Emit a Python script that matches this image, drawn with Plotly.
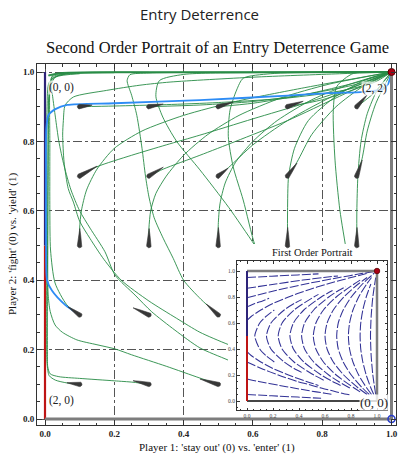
import math
import plotly.graph_objects as go

# ---------------- data ----------------
tick_vals = [0.0, 0.2, 0.4, 0.6, 0.8, 1.0]
tick_text = ["0.0", "0.2", "0.4", "0.6", "0.8", "1.0"]

# second-order trajectories (green), (x, y) pairs
traj_top = [(0.01, 0.99), (0.05, 0.997), (0.3, 0.999), (0.7, 0.999), (1.0, 1.0)]
traj_r1c1 = [(0.1, 0.1), (0.063, 0.104), (0.03, 0.112), (0.012, 0.125), (0.006, 0.16), (0.005, 0.3),
             (0.005, 0.5), (0.005, 0.7), (0.006, 0.9), (0.012, 0.97), (0.04, 0.99), (0.2, 0.998)]
traj_r1c2 = [(0.3, 0.1), (0.254, 0.106), (0.2, 0.11), (0.1, 0.117), (0.04, 0.122), (0.015, 0.13),
             (0.008, 0.15), (0.007, 0.2), (0.007, 0.4), (0.008, 0.6), (0.009, 0.8), (0.011, 0.93),
             (0.02, 0.98), (0.06, 0.995), (0.3, 0.999)]
traj_r1c3 = [(0.5, 0.1), (0.447, 0.118), (0.35, 0.152), (0.25, 0.185), (0.202, 0.202), (0.15, 0.214),
             (0.092, 0.228), (0.05, 0.25), (0.029, 0.271), (0.015, 0.31), (0.009, 0.36), (0.008, 0.5),
             (0.009, 0.7), (0.011, 0.9), (0.016, 0.96), (0.03, 0.985), (0.1, 0.995)]
traj_r1c4 = [(0.62, 0.13), (0.528, 0.17), (0.447, 0.205), (0.375, 0.256), (0.308, 0.309), (0.26, 0.357),
             (0.202, 0.415), (0.173, 0.482), (0.13, 0.55), (0.1, 0.6), (0.075, 0.66), (0.055, 0.73),
             (0.04, 0.8), (0.03, 0.87), (0.022, 0.93), (0.017, 0.97), (0.022, 0.99), (0.06, 0.997),
             (0.3, 0.999), (1.0, 1.0)]
traj_r1c5 = [(0.6, 0.19), (0.528, 0.215), (0.447, 0.25), (0.38, 0.29), (0.3, 0.34), (0.22, 0.4),
             (0.17, 0.46), (0.13, 0.52), (0.1, 0.57), (0.082, 0.625), (0.067, 0.664), (0.055, 0.741),
             (0.051, 0.818), (0.053, 0.86), (0.058, 0.904), (0.082, 0.928), (0.178, 0.947),
             (0.274, 0.962), (0.361, 0.971), (0.6, 0.985), (0.85, 0.995), (1.0, 1.0)]
traj_r2c1g = [(0.1, 0.3), (0.063, 0.329), (0.029, 0.392), (0.016, 0.487), (0.014, 0.6), (0.014, 0.8),
              (0.014, 0.95), (0.02, 0.985), (0.06, 0.995)]
traj_r2c3 = [(0.5, 0.3), (0.45, 0.345), (0.4, 0.4), (0.37, 0.463), (0.341, 0.521), (0.315, 0.58),
             (0.3, 0.64), (0.29, 0.7), (0.28, 0.78), (0.265, 0.875), (0.25, 0.933), (0.237, 0.975),
             (0.245, 0.992), (0.3, 0.997), (0.6, 0.999), (1.0, 1.0)]
traj_r2c4 = [(0.68, 0.33), (0.64, 0.42), (0.606, 0.5), (0.572, 0.631), (0.543, 0.727), (0.529, 0.814),
             (0.534, 0.89), (0.553, 0.948), (0.572, 0.982), (0.65, 0.995), (0.8, 0.999), (1.0, 1.0)]
traj_r2c5 = [(0.89, 0.35), (0.871, 0.477), (0.851, 0.602), (0.837, 0.746), (0.832, 0.89),
             (0.842, 0.958), (0.89, 0.996), (1.0, 1.0)]
traj_extra = [(0.8, 0.2), (0.7, 0.36), (0.606, 0.5), (0.53, 0.61), (0.447, 0.718), (0.38, 0.8),
              (0.34, 0.87), (0.32, 0.93), (0.33, 0.975), (0.4, 0.993), (0.6, 0.998), (1.0, 1.0)]
traj_r3c1 = [(0.1, 0.5), (0.1, 0.55), (0.105, 0.6), (0.12, 0.66), (0.15, 0.72), (0.2, 0.78),
             (0.28, 0.83), (0.4, 0.875), (0.55, 0.915), (0.75, 0.955), (1.0, 1.0)]
traj_r3c2 = [(0.3, 0.5), (0.3, 0.55), (0.305, 0.6), (0.32, 0.65), (0.35, 0.7), (0.4, 0.76),
             (0.47, 0.82), (0.56, 0.875), (0.68, 0.925), (0.82, 0.965), (1.0, 1.0)]
traj_r3c3 = [(0.5, 0.5), (0.5, 0.56), (0.505, 0.62), (0.52, 0.68), (0.55, 0.74), (0.6, 0.8),
             (0.67, 0.86), (0.77, 0.92), (0.88, 0.965), (1.0, 1.0)]
traj_r3c4 = [(0.7, 0.5), (0.7, 0.6), (0.703, 0.7), (0.72, 0.78), (0.76, 0.86), (0.84, 0.93),
             (0.93, 0.98), (1.0, 1.0)]
traj_r3c5 = [(0.9, 0.5), (0.9, 0.6), (0.903, 0.7), (0.912, 0.8), (0.93, 0.88), (0.96, 0.95), (1.0, 1.0)]
traj_r4c1 = [(0.1, 0.7), (0.15, 0.727), (0.25, 0.76), (0.35, 0.79), (0.447, 0.818), (0.6, 0.865),
             (0.75, 0.91), (0.9, 0.96), (1.0, 1.0)]
traj_r4c2 = [(0.3, 0.7), (0.341, 0.72), (0.447, 0.76), (0.55, 0.8), (0.7, 0.86), (0.85, 0.93), (1.0, 1.0)]
traj_r4c3 = [(0.5, 0.7), (0.53, 0.725), (0.6, 0.79), (0.7, 0.86), (0.85, 0.94), (1.0, 1.0)]
traj_r4c4 = [(0.7, 0.7), (0.727, 0.74), (0.77, 0.82), (0.84, 0.9), (0.92, 0.96), (1.0, 1.0)]
traj_r4c5 = [(0.9, 0.7), (0.915, 0.75), (0.93, 0.83), (0.955, 0.91), (1.0, 1.0)]
traj_r5c1 = [(0.1, 0.9), (0.2, 0.902), (0.35, 0.906), (0.5, 0.912), (0.7, 0.925), (0.85, 0.945),
             (0.95, 0.97), (1.0, 1.0)]
traj_r5c2 = [(0.3, 0.9), (0.45, 0.905), (0.6, 0.915), (0.75, 0.935), (0.9, 0.965), (1.0, 1.0)]
traj_r5c3 = [(0.5, 0.9), (0.6, 0.91), (0.75, 0.935), (0.9, 0.97), (1.0, 1.0)]
traj_r5c4 = [(0.7, 0.9), (0.8, 0.92), (0.92, 0.96), (1.0, 1.0)]
traj_r5c5 = [(0.9, 0.9), (0.95, 0.94), (1.0, 1.0)]

# highlighted trajectory (light blue)
traj_blue = [(0.1, 0.3), (0.058, 0.329), (0.02, 0.37), (0.006, 0.4), (0.003, 0.5), (0.003, 0.7),
             (0.004, 0.84), (0.01, 0.876), (0.03, 0.893), (0.064, 0.905), (0.2, 0.91), (0.447, 0.919),
             (0.7, 0.932), (0.82, 0.939), (0.92, 0.943), (0.975, 0.95), (0.99, 0.965),
             (0.995, 0.98), (1.0, 1.0)]

# comets: head (grid point) and tail (initial velocity direction)
comet_heads = [(0.1, 0.9), (0.3, 0.9), (0.5, 0.9), (0.7, 0.9), (0.9, 0.9),
               (0.1, 0.7), (0.3, 0.7), (0.5, 0.7), (0.7, 0.7), (0.9, 0.7),
               (0.1, 0.5), (0.3, 0.5), (0.5, 0.5), (0.7, 0.5), (0.9, 0.5),
               (0.1, 0.3), (0.3, 0.3), (0.5, 0.3),
               (0.1, 0.1), (0.3, 0.1), (0.5, 0.1)]
comet_tails = [(0.136, 0.905), (0.341, 0.908), (0.543, 0.914), (0.745, 0.916), (0.929, 0.934),
               (0.150, 0.729), (0.341, 0.726), (0.528, 0.723), (0.727, 0.738), (0.915, 0.746),
               (0.1, 0.549), (0.3, 0.549), (0.5, 0.552), (0.7, 0.552), (0.9, 0.552),
               (0.066, 0.323), (0.254, 0.32), (0.465, 0.331),
               (0.063, 0.104), (0.254, 0.11), (0.447, 0.115)]

# inset: first-order stream lines
inset_up1 = [(0.0, 0.95), (0.19, 0.96), (0.39, 0.97), (0.55, 0.978)]
inset_up2 = [(0.0, 0.867), (0.22, 0.9), (0.43, 0.93), (0.59, 0.95), (0.7, 0.962)]
inset_up3 = [(0.0, 0.795), (0.22, 0.85), (0.45, 0.9), (0.71, 0.95), (0.88, 0.98), (0.97, 0.995)]
inset_up4 = [(0.0, 0.724), (0.06, 0.75), (0.12, 0.77), (0.17, 0.79)]
inset_up5 = [(0.0, 0.62), (0.032, 0.65), (0.106, 0.7), (0.2, 0.75), (0.319, 0.8), (0.457, 0.85),
             (0.617, 0.9), (0.8, 0.95), (0.92, 0.98)]
inset_dn1 = [(0.0, 0.05), (0.19, 0.04), (0.39, 0.03), (0.57, 0.021)]
inset_dn2 = [(0.0, 0.17), (0.09, 0.15), (0.25, 0.12), (0.36, 0.1), (0.47, 0.08), (0.6, 0.06), (0.66, 0.05)]
inset_dn3 = [(0.0, 0.3), (0.11, 0.25), (0.24, 0.2), (0.39, 0.15), (0.5, 0.12), (0.57, 0.1),
             (0.65, 0.08), (0.73, 0.06), (0.8, 0.045)]
inset_dn4 = [(0.0, 0.38), (0.032, 0.35), (0.106, 0.3), (0.2, 0.25), (0.319, 0.2), (0.457, 0.15), (0.55, 0.12)]
inset_arc1 = [(0.21, 0.3), (0.145, 0.35), (0.098, 0.4), (0.06, 0.5), (0.098, 0.6), (0.145, 0.65), (0.21, 0.7)]
inset_arc2 = [(0.42, 0.22), (0.3625, 0.25), (0.286, 0.3), (0.184, 0.4), (0.15, 0.5), (0.184, 0.6),
              (0.286, 0.7), (0.3625, 0.75), (0.42, 0.78)]
inset_arc3 = [(0.59, 0.16), (0.514, 0.2), (0.362, 0.3), (0.27, 0.4), (0.24, 0.5), (0.27, 0.6),
              (0.362, 0.7), (0.514, 0.8), (0.55, 0.82)]
inset_arc4 = [(0.72, 0.12), (0.658, 0.15), (0.571, 0.2), (0.437, 0.3), (0.357, 0.4), (0.33, 0.5),
              (0.357, 0.6), (0.437, 0.7), (0.571, 0.8), (0.658, 0.85)]
inset_arc5 = [(0.791, 0.1), (0.704, 0.15), (0.629, 0.2), (0.513, 0.3), (0.443, 0.4), (0.42, 0.5),
              (0.443, 0.6), (0.513, 0.7), (0.629, 0.8), (0.704, 0.85), (0.76, 0.88)]
inset_arc6 = [(0.87, 0.07), (0.824, 0.1), (0.686, 0.2), (0.588, 0.3), (0.53, 0.4), (0.51, 0.5),
              (0.53, 0.6), (0.588, 0.7), (0.686, 0.8), (0.824, 0.9), (0.87, 0.93)]
inset_arc7 = [(0.924, 0.05), (0.856, 0.1), (0.744, 0.2), (0.664, 0.3), (0.616, 0.4), (0.6, 0.5),
              (0.616, 0.6), (0.664, 0.7), (0.744, 0.8), (0.856, 0.9), (0.924, 0.95)]
inset_arc8 = [(0.941, 0.05), (0.888, 0.1), (0.802, 0.2), (0.74, 0.3), (0.702, 0.4), (0.69, 0.5),
              (0.702, 0.6), (0.74, 0.7), (0.802, 0.8), (0.888, 0.9), (0.941, 0.95), (0.98, 0.985)]
inset_arc9 = [(0.958, 0.05), (0.921, 0.1), (0.859, 0.2), (0.815, 0.3), (0.789, 0.4), (0.78, 0.5),
              (0.789, 0.6), (0.815, 0.7), (0.859, 0.8), (0.921, 0.9), (0.958, 0.95)]
inset_arc10 = [(0.975, 0.05), (0.953, 0.1), (0.917, 0.2), (0.891, 0.3), (0.875, 0.4), (0.87, 0.5),
               (0.875, 0.6), (0.891, 0.7), (0.917, 0.8), (0.953, 0.9)]
inset_arc11 = [(0.99, 0.05), (0.968, 0.2), (0.955, 0.35), (0.95, 0.5), (0.955, 0.65), (0.968, 0.8), (0.99, 0.95)]

corner_labels = ["(0, 0)", "(2, 2)", "(2, 0)"]
corner_pos = [(0.049, 0.954), (0.951, 0.952), (0.049, 0.052)]

# ---------------- styling / geometry ----------------
W, H = 399, 455
ML, MT = 37, 64
PW, PH = 359, 361
MR, MB = W - ML - PW, H - MT - PH
PX0, SX = 45.0, 346.5   # x=0 pixel, px per unit
PY0, SY = 419.0, 347.0  # y=0 pixel, px per unit
XR = [(ML - PX0) / SX, (ML + PW - PX0) / SX]
YR = [(PY0 - (MT + PH)) / SY, (PY0 - MT) / SY]

GREEN = "rgba(40,140,70,0.9)"
BLUE = "rgb(45,140,245)"
NAVY = "rgb(45,35,120)"
RED = "rgb(190,20,20)"
GRAY = "rgb(125,125,125)"
STREAM = "rgb(50,50,150)"
SERIF = "Liberation Serif"


def r2p(px, py):
    """pixel -> paper coordinates"""
    return (px - ML) / PW, ((MT + PH) - py) / PH


fig = go.Figure()


def line(pts, color, width, xa="x", ya="y", dash=None, spline=True):
    fig.add_trace(go.Scatter(
        x=[p[0] for p in pts], y=[p[1] for p in pts], mode="lines",
        line=dict(color=color, width=width, dash=dash,
                  shape="spline" if spline else "linear", smoothing=0.7),
        xaxis=xa, yaxis=ya, hoverinfo="skip", showlegend=False))


# boundary of main portrait (left edge)
line([(0, 0), (0, 0.5)], RED, 2.2, spline=False)
line([(0, 0.5), (0, 1)], NAVY, 2.2, spline=False)

green_trajs = [traj_top, traj_r1c1, traj_r1c2, traj_r1c3, traj_r1c4, traj_r1c5, traj_r2c1g,
               traj_r2c3, traj_r2c4, traj_r2c5, traj_extra, traj_r3c1, traj_r3c2, traj_r3c3,
               traj_r3c4, traj_r3c5, traj_r4c1, traj_r4c2, traj_r4c3, traj_r4c4, traj_r4c5,
               traj_r5c1, traj_r5c2, traj_r5c3, traj_r5c4, traj_r5c5]
for t in green_trajs:
    line(t, GREEN, 1.0)
line(traj_top, GREEN, 2.0)
line(traj_blue, BLUE, 1.8)

# white backing for the inset
bx0, bx1 = (228 - PX0) / SX, (390 - PX0) / SX
by0, by1 = (PY0 - 417) / SY, (PY0 - 244) / SY
fig.add_trace(go.Scatter(x=[bx0, bx1, bx1, bx0, bx0], y=[by0, by0, by1, by1, by0], mode="lines",
                         fill="toself", fillcolor="white", line=dict(width=0),
                         hoverinfo="skip", showlegend=False))

# comets
for (hx, hy), (tx, ty) in zip(comet_heads, comet_tails):
    dx, dy = (tx - hx) * SX, (ty - hy) * SY
    L = math.hypot(dx, dy)
    ux, uy = dx / L, dy / L
    nx, ny = -uy, ux
    r = 2.3
    xs, ys = [], []
    for f, w in [(0.0, r), (0.3, 0.75 * r), (0.6, 0.45 * r), (1.0, 0.15)]:
        xs.append(hx + (f * dx + w * nx) / SX)
        ys.append(hy + (f * dy + w * ny) / SY)
    for f, w in [(1.0, 0.15), (0.6, 0.45 * r), (0.3, 0.75 * r), (0.0, r)]:
        xs.append(hx + (f * dx - w * nx) / SX)
        ys.append(hy + (f * dy - w * ny) / SY)
    a0 = math.atan2(-ny, -nx)
    for k in range(1, 9):
        a = a0 - math.pi * k / 8
        xs.append(hx + r * math.cos(a) / SX)
        ys.append(hy + r * math.sin(a) / SY)
    fig.add_trace(go.Scatter(x=xs, y=ys, mode="lines", fill="toself", fillcolor="rgb(55,55,55)",
                             line=dict(width=0.6, color="rgb(55,55,55)"), hoverinfo="skip",
                             showlegend=False))

# gray boundaries, markers
line([(0, 0), (1, 0)], GRAY, 3, spline=False)
line([(1, 0), (1, 1)], GRAY, 3, spline=False)
fig.add_trace(go.Scatter(x=[1], y=[1], mode="markers",
                         marker=dict(size=7, color="rgb(170,0,20)", line=dict(color="rgb(90,0,0)", width=1)),
                         hoverinfo="skip", showlegend=False, cliponaxis=False))
fig.add_trace(go.Scatter(x=[1], y=[0], mode="markers",
                         marker=dict(size=7, symbol="circle-open", color="rgb(40,60,200)", line=dict(width=1.6)),
                         hoverinfo="skip", showlegend=False, cliponaxis=False))

# ---------------- inset ----------------
for s in [inset_up1, inset_up2, inset_up3, inset_up4, inset_up5, inset_dn1, inset_dn2, inset_dn3,
          inset_dn4, inset_arc1, inset_arc2, inset_arc3, inset_arc4, inset_arc5, inset_arc6,
          inset_arc7, inset_arc8, inset_arc9, inset_arc10, inset_arc11]:
    line(s, STREAM, 1.05, "x2", "y2", dash="9px,2px")
line([(0, 1), (1, 1)], GRAY, 2.5, "x2", "y2", spline=False)
line([(1, 0), (1, 1)], GRAY, 2.5, "x2", "y2", spline=False)
line([(0, 0), (1, 0)], "rgb(70,70,70)", 2, "x2", "y2", spline=False)
line([(0, 0), (0, 0.5)], RED, 2, "x2", "y2", spline=False)
line([(0, 0.5), (0, 1)], NAVY, 2, "x2", "y2", spline=False)
fig.add_trace(go.Scatter(x=[1], y=[1], mode="markers", xaxis="x2", yaxis="y2",
                         marker=dict(size=5.5, color="rgb(170,0,20)", line=dict(color="rgb(90,0,0)", width=0.8)),
                         hoverinfo="skip", showlegend=False, cliponaxis=False))

# inset geometry (pixels)
IX0, IX1, IY0, IY1 = 237, 387, 261, 410
IPX0, IPY0, IS = 247.0, 401.0, 130.0
ixd0, iyd1 = r2p(IX0, IY0)
ixd1, iyd0 = r2p(IX1, IY1)

axis_common = dict(ticks="inside", showline=True, linecolor="#333", linewidth=1, mirror="ticks",
                   tickcolor="#333", zeroline=False, fixedrange=True, automargin=False)

fig.update_layout(
    width=W, height=H, margin=dict(l=ML, r=MR, t=MT, b=MB, autoexpand=False),
    paper_bgcolor="white", plot_bgcolor="white", showlegend=False,
    xaxis=dict(domain=[0, 1], range=XR, tickvals=tick_vals, ticktext=tick_text, ticklen=5,
               showgrid=True, gridcolor="#555", griddash="dashdot", gridwidth=1,
               minor=dict(dtick=0.05, tick0=0, ticks="inside", ticklen=2.5, tickcolor="#333", showgrid=False),
               tickfont=dict(family=SERIF, size=9, color="#222", weight="bold"), **axis_common),
    yaxis=dict(domain=[0, 1], range=YR, tickvals=tick_vals, ticktext=tick_text, ticklen=5,
               showgrid=True, gridcolor="#555", griddash="dashdot", gridwidth=1,
               minor=dict(dtick=0.05, tick0=0, ticks="inside", ticklen=2.5, tickcolor="#333", showgrid=False),
               tickfont=dict(family=SERIF, size=9, color="#222", weight="bold"), **axis_common),
    xaxis2=dict(domain=[ixd0, ixd1], anchor="y2",
                range=[(IX0 - IPX0) / IS, (IX1 - IPX0) / IS], tickvals=tick_vals, ticktext=tick_text,
                ticklen=2.5, showgrid=False,
                minor=dict(dtick=0.05, tick0=0, ticks="inside", ticklen=1.3, tickcolor="#333", showgrid=False),
                tickfont=dict(family=SERIF, size=5.5, color="#444"), **axis_common),
    yaxis2=dict(domain=[iyd0, iyd1], anchor="x2",
                range=[(IPY0 - IY1) / IS, (IPY0 - IY0) / IS], tickvals=tick_vals, ticktext=tick_text,
                ticklen=2.5, showgrid=False,
                minor=dict(dtick=0.05, tick0=0, ticks="inside", ticklen=1.3, tickcolor="#333", showgrid=False),
                tickfont=dict(family=SERIF, size=5.5, color="#444"), **axis_common),
)

C = dict(xanchor="center", yanchor="middle", showarrow=False)
ann = []
tx, ty = r2p(199.5, 14)
ann.append(dict(text="Entry Deterrence", x=tx, y=ty, xref="paper", yref="paper",
                font=dict(family="Open Sans", size=15, color="#222"), **C))
tx, ty = r2p(217, 47)
ann.append(dict(text="Second Order Portrait of an Entry Deterrence Game", x=tx, y=ty, xref="paper",
                yref="paper", font=dict(family=SERIF, size=16.5, color="#111"), **C))
tx, ty = r2p(217, 447)
ann.append(dict(text="Player 1: 'stay out' (0) vs. 'enter' (1)", x=tx, y=ty, xref="paper", yref="paper",
                font=dict(family=SERIF, size=11, color="#111"), **C))
tx, ty = r2p(12, 244)
ann.append(dict(text="Player 2: 'fight' (0) vs. 'yield' (1)", x=tx, y=ty, xref="paper", yref="paper",
                textangle=-90, font=dict(family=SERIF, size=11, color="#111"), **C))
tx, ty = r2p(312, 252)
ann.append(dict(text="First Order Portrait", x=tx, y=ty, xref="paper", yref="paper",
                font=dict(family=SERIF, size=10.5, color="#111"), **C))
for lab, (lx, ly) in zip(corner_labels, corner_pos):
    ann.append(dict(text=lab, x=lx, y=ly, xref="x", yref="y",
                    bgcolor="rgba(255,255,255,0.7)", borderpad=0,
                    font=dict(family=SERIF, size=11.5, color="#222"), **C))
ann.append(dict(text="(0, 0)", x=0.98, y=-0.01, xref="x2", yref="y2",
                bgcolor="rgba(255,255,255,0.8)", borderpad=0,
                font=dict(family=SERIF, size=13, color="#222"), **C))
fig.update_layout(annotations=ann)

# remove the default page margin so the figure sits at the window's top-left corner
fig.write_html("out.html", config={"displayModeBar": False},
               post_script="document.body.style.margin='0px';")
